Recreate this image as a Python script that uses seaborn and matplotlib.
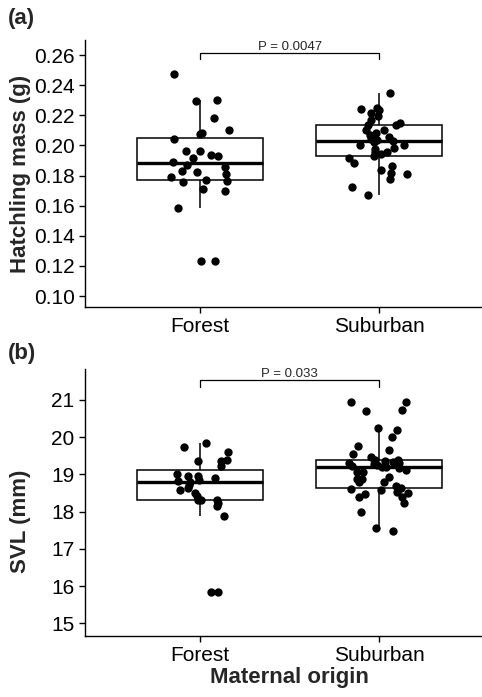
import numpy as np
import pandas as pd
import matplotlib
matplotlib.use('Agg')
import matplotlib.pyplot as plt
import seaborn as sns

# values
origins = ['Forest', 'Suburban']

mass_forest = [0.2474, 0.2302, 0.2294, 0.2183, 0.2104, 0.2080, 0.2073, 0.2040,
               0.1965, 0.1961, 0.1937, 0.1932, 0.1917, 0.1891, 0.1873, 0.1857,
               0.1833, 0.1822, 0.1813, 0.1791, 0.1770, 0.1762, 0.1756, 0.1712,
               0.1696, 0.1582, 0.1233, 0.1233]
mass_suburban = [0.2351, 0.2248, 0.2241, 0.2232, 0.2215, 0.2197, 0.2170, 0.2152,
                 0.2137, 0.2137, 0.2100, 0.2100, 0.2082, 0.2071, 0.2056, 0.2042,
                 0.2033, 0.2031, 0.2023, 0.2005, 0.2000, 0.1983, 0.1977, 0.1954,
                 0.1954, 0.1945, 0.1932, 0.1917, 0.1880, 0.1862, 0.1840, 0.1818,
                 0.1807, 0.1774, 0.1725, 0.1674]

svl_forest = [19.84, 19.73, 19.61, 19.39, 19.37, 19.37, 19.23, 19.01, 18.96,
              18.96, 18.90, 18.85, 18.81, 18.80, 18.72, 18.63, 18.58, 18.51,
              18.42, 18.30, 18.24, 18.31, 18.30, 18.14, 17.88, 15.83, 15.83]
svl_suburban = [20.95, 20.95, 20.73, 20.71, 20.24, 20.19, 20.01, 19.75, 19.66,
                19.55, 19.48, 19.39, 19.39, 19.36, 19.33, 19.31, 19.30, 19.30,
                19.27, 19.25, 19.22, 19.21, 19.21, 19.18, 19.12, 19.07, 19.07,
                18.92, 18.88, 18.87, 18.80, 18.79, 18.70, 18.63, 18.60, 18.57,
                18.54, 18.50, 18.46, 18.40, 18.40, 18.24, 18.00, 17.55, 17.48]

p_labels = ['P = 0.0047', 'P = 0.033']
ylabels = ['Hatchling mass (g)', 'SVL (mm)']
panel_tags = ['(a)', '(b)']

df_mass = pd.DataFrame({'origin': [origins[0]] * len(mass_forest) + [origins[1]] * len(mass_suburban),
                        'value': mass_forest + mass_suburban})
df_svl = pd.DataFrame({'origin': [origins[0]] * len(svl_forest) + [origins[1]] * len(svl_suburban),
                       'value': svl_forest + svl_suburban})

sns.set_style('ticks')
plt.rcParams['font.family'] = ['Liberation Sans', 'DejaVu Sans']

fig = plt.figure(figsize=(4.82, 6.97), dpi=100)
ax_a = fig.add_axes([85 / 482, 1 - 307 / 697, 1 - 85 / 482, 267 / 697])
ax_b = fig.add_axes([85 / 482, 1 - 636 / 697, 1 - 85 / 482, 267 / 697])

np.random.seed(7)

settings = [
    (ax_a, df_mass, (0.0927, 0.2700), np.arange(0.10, 0.261, 0.02), '{:.2f}', (0.2573, 0.2611)),
    (ax_b, df_svl, (14.66, 21.83), np.arange(15, 22, 1), '{:.0f}', (21.35, 21.54)),
]

xmin, xmax = -0.641, 1.573

for i, (ax, d, ylim, yticks, fmt, br) in enumerate(settings):
    sns.boxplot(data=d, x='origin', y='value', order=origins, ax=ax, width=0.7,
                color='white', linecolor='black', linewidth=1.1, showcaps=False,
                showfliers=False, whis=1.5, medianprops=dict(linewidth=2.4))
    sns.stripplot(data=d, x='origin', y='value', order=origins, ax=ax,
                  color='black', size=6, jitter=0.17)
    ax.set_xlim(xmin, xmax)
    ax.set_ylim(*ylim)
    ax.set_yticks(yticks)
    ax.set_yticklabels([fmt.format(t) for t in yticks])
    ax.tick_params(labelsize=15, length=4, width=1, colors='black')
    ax.set_ylabel(ylabels[i], fontsize=16, fontweight='bold')
    ax.set_xlabel('')
    for s in ['left', 'bottom']:
        ax.spines[s].set_linewidth(1)
        ax.spines[s].set_color('black')
    sns.despine(ax=ax)

    # significance bracket
    ax.plot([0, 0, 1, 1], [br[0], br[1], br[1], br[0]], color='black', lw=0.9,
            clip_on=False)
    ax.text(0.5, br[1], p_labels[i], ha='center', va='bottom', fontsize=9.5)

ax_b.set_xlabel('Maternal origin', fontsize=16, fontweight='bold', labelpad=2)
ax_b.xaxis.set_label_coords((0.5 - xmin) / (xmax - xmin), -0.115)
ax_a.yaxis.set_label_coords(-0.135, 0.5)
ax_b.yaxis.set_label_coords(-0.135, 0.43)

fig.text(8 / 482, 1 - 8 / 697, panel_tags[0], fontsize=16, fontweight='bold', va='top')
fig.text(8 / 482, 1 - 343 / 697, panel_tags[1], fontsize=16, fontweight='bold', va='top')

fig.savefig('out.png', dpi=100)
